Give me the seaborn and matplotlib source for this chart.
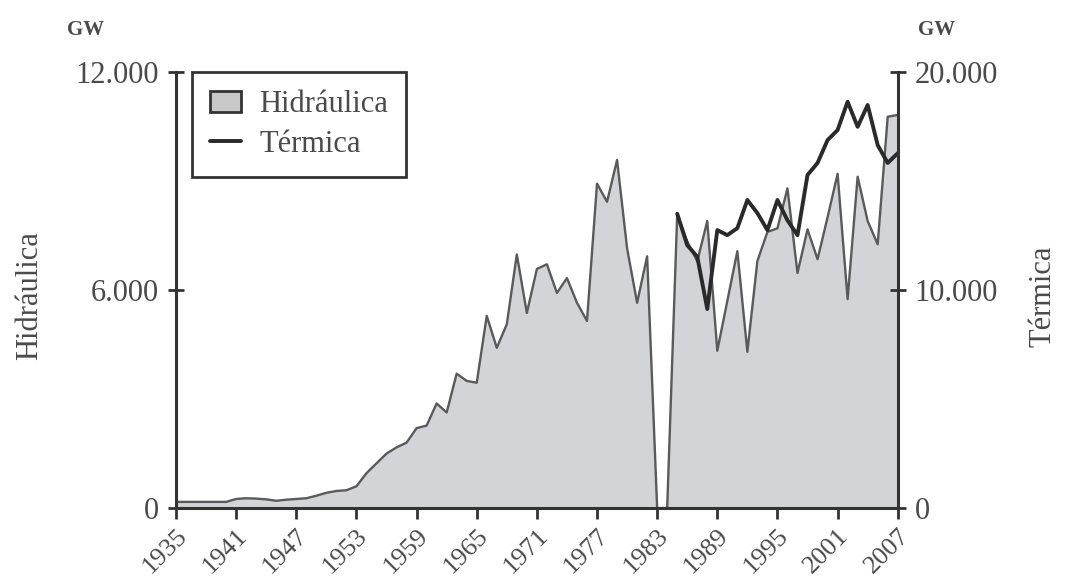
import seaborn as sns
import matplotlib.pyplot as plt
import matplotlib.ticker as mticker
from matplotlib.patches import Patch
from matplotlib.lines import Line2D
import pandas as pd
import numpy as np

anos = list(range(1935, 2008))

hidraulica = [170, 170, 170, 170, 170, 170, 250, 270, 260, 240, 200, 230, 250, 270, 340, 420,
              470, 490, 600, 960, 1230, 1500, 1670, 1800, 2200, 2270, 2880, 2630, 3700, 3500,
              3450, 5290, 4410, 5060, 6980, 5370, 6580, 6710, 5920, 6330, 5650, 5150, 8930, 8430,
              9580, 7150, 5650, 6930, 0, 0, 8080, 7340, 6790, 7900, 4330, 5700, 7070, 4300,
              6800, 7600, 7700, 8800, 6470, 7670, 6850, 8000, 9200, 5750, 9120, 7900, 7260,
              10770, 10820]

anos_termica = list(range(1985, 2008))
termica = [13500, 12060, 11530, 9130, 12750, 12520, 12840, 14130, 13530, 12750, 14130, 13200,
           12520, 15280, 15830, 16880, 17340, 18640, 17490, 18490, 16650, 15830, 16280]

anos_ticks = list(range(1935, 2008, 6))

df_h = pd.DataFrame({'ano': anos, 'valor': hidraulica})
df_t = pd.DataFrame({'ano': anos_termica, 'valor': termica})

sns.set_style('ticks')
plt.rcParams['font.family'] = ['Liberation Serif', 'DejaVu Serif']
cor_txt = '#4a4a4a'

fig = plt.figure(figsize=(10.7, 5.86), dpi=100)
ax = fig.add_axes([0.1645, 0.133, 0.6745, 0.744])

ax.fill_between(df_h['ano'], df_h['valor'], color='#d2d4d7', linewidth=0)
sns.lineplot(data=df_h, x='ano', y='valor', ax=ax, color='#5a5a5a', linewidth=1.7)

ax2 = ax.twinx()
sns.lineplot(data=df_t, x='ano', y='valor', ax=ax2, color='#2a2a2a', linewidth=2.8)

ax.set_xlim(1935, 2007)
ax.set_ylim(0, 12000)
ax2.set_ylim(0, 20000)

fmt = mticker.FuncFormatter(lambda v, p: f'{int(v):,}'.replace(',', '.'))
ax.set_yticks([0, 6000, 12000])
ax2.set_yticks([0, 10000, 20000])
ax.yaxis.set_major_formatter(fmt)
ax2.yaxis.set_major_formatter(fmt)
ax.set_xticks(anos_ticks)
ax.set_xticklabels([str(a) for a in anos_ticks], rotation=45, ha='right', rotation_mode='anchor')

for a in (ax, ax2):
    a.set_xlabel('')
    a.set_ylabel('')
    a.spines['top'].set_visible(False)
    for s in a.spines.values():
        s.set_linewidth(2.2)
        s.set_color('#333333')
ax.spines['right'].set_visible(False)
ax2.spines['left'].set_visible(False)
ax2.spines['bottom'].set_visible(False)

ax.tick_params(axis='x', direction='out', length=8, width=2, colors='#333333',
               labelsize=19, labelcolor=cor_txt, pad=4)
ax.tick_params(axis='y', direction='inout', length=12, width=2, colors='#333333',
               labelsize=22, labelcolor=cor_txt, pad=6)
ax2.tick_params(axis='y', direction='inout', length=12, width=2, colors='#333333',
                labelsize=22, labelcolor=cor_txt, pad=6)

fig.text(0.028, 0.495, 'Hidráulica', rotation=90, ha='center', va='center', fontsize=22, color=cor_txt)
fig.text(0.975, 0.495, 'Térmica', rotation=90, ha='center', va='center', fontsize=22, color=cor_txt)
fig.text(0.08, 0.948, 'GW', ha='center', va='center', fontsize=15, color=cor_txt, fontweight='bold')
fig.text(0.875, 0.948, 'GW', ha='center', va='center', fontsize=15, color=cor_txt, fontweight='bold')

handles = [Patch(facecolor='#c8c8c8', edgecolor='#333333', linewidth=2),
           Line2D([0], [0], color='#2a2a2a', linewidth=2.8)]
leg = ax2.legend(handles, ['Hidráulica', 'Térmica'], loc='upper left', bbox_to_anchor=(0.022, 1.0),
                 borderaxespad=0, fontsize=22, frameon=True, fancybox=False, edgecolor='#333333',
                 framealpha=1, handlelength=1.0, handletextpad=0.6, borderpad=0.6,
                 labelspacing=0.35)
leg.get_frame().set_linewidth(2)
for t in leg.get_texts():
    t.set_color(cor_txt)

fig.savefig('out.png', dpi=100)
